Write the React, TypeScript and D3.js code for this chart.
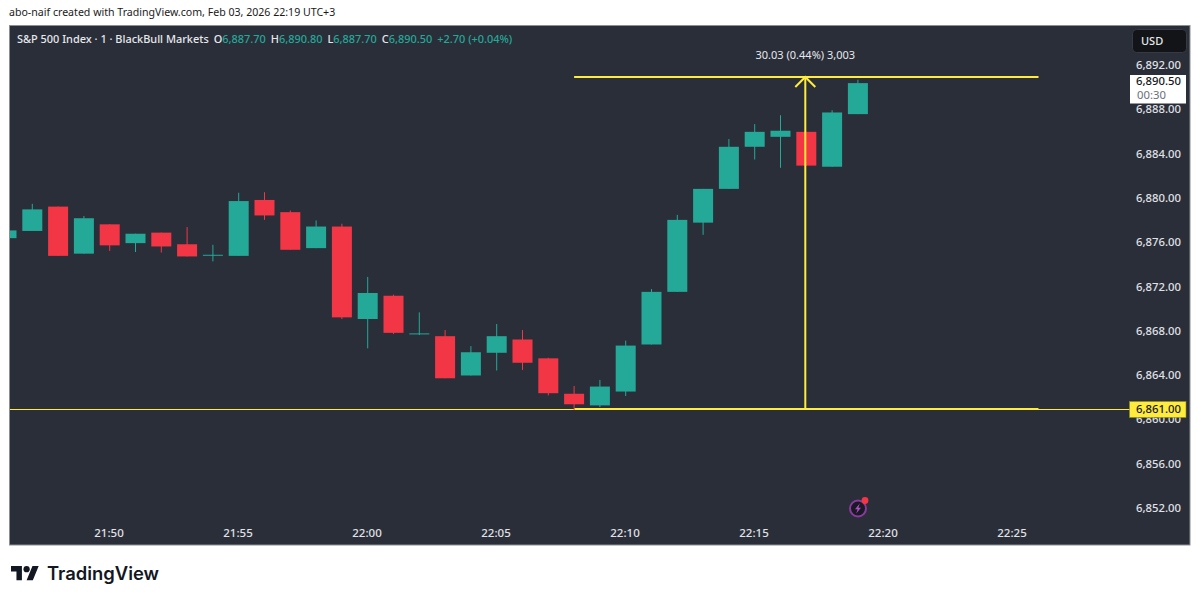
import React from 'react';
import * as d3 from 'd3';

const WIDTH = 1200;
const HEIGHT = 602;

// one-minute bars, first one is 21:46
const minutes = [
  '21:46', '21:47', '21:48', '21:49', '21:50', '21:51', '21:52', '21:53', '21:54', '21:55', '21:56',
  '21:57', '21:58', '21:59', '22:00', '22:01', '22:02', '22:03', '22:04', '22:05', '22:06', '22:07',
  '22:08', '22:09', '22:10', '22:11', '22:12', '22:13', '22:14', '22:15', '22:16', '22:17', '22:18', '22:19',
];
const opens = [
  6876.5, 6877.15, 6879.35, 6875.1, 6877.75, 6876.05, 6877.0, 6875.95, 6875.0, 6874.9, 6879.95,
  6878.85, 6875.6, 6877.55, 6869.2, 6871.3, 6867.9, 6867.65, 6864.1, 6866.15, 6867.35, 6865.65,
  6862.45, 6861.4, 6862.65, 6866.9, 6871.65, 6877.9, 6880.95, 6884.75, 6885.65, 6886.1, 6882.95, 6887.7,
];
const highs = [
  6877.2, 6879.6, 6879.35, 6878.5, 6877.75, 6876.9, 6877.0, 6877.5, 6875.9, 6880.6, 6880.65,
  6879.0, 6878.1, 6877.8, 6873.0, 6871.4, 6869.8, 6868.2, 6866.75, 6868.75, 6868.2, 6865.7,
  6863.15, 6863.7, 6867.25, 6871.9, 6878.6, 6880.95, 6885.45, 6886.8, 6887.6, 6886.1, 6888.05, 6890.8,
];
const lows = [
  6876.5, 6877.15, 6874.9, 6875.1, 6875.35, 6875.25, 6875.2, 6874.85, 6874.4, 6874.9, 6878.15,
  6875.45, 6875.6, 6869.2, 6866.55, 6867.85, 6867.75, 6863.85, 6864.1, 6864.55, 6864.6, 6862.3,
  6861.0, 6861.25, 6862.25, 6866.9, 6871.65, 6876.8, 6880.95, 6883.6, 6882.85, 6883.05, 6882.95, 6887.7,
];
const closes = [
  6877.2, 6879.1, 6874.9, 6878.3, 6875.85, 6876.9, 6875.75, 6874.85, 6875.0, 6879.85, 6878.55,
  6875.45, 6877.55, 6869.35, 6871.55, 6867.95, 6867.9, 6863.85, 6866.2, 6867.65, 6865.25, 6862.5,
  6861.5, 6863.1, 6866.8, 6871.65, 6878.15, 6880.95, 6884.75, 6886.1, 6886.2, 6883.05, 6887.85, 6890.5,
];

const priceTicks = [6892, 6888, 6884, 6880, 6876, 6872, 6868, 6864, 6860, 6856, 6852];
const timeTicks = ['21:50', '21:55', '22:00', '22:05', '22:10', '22:15', '22:20', '22:25'];

const lastPrice = 6890.5;
const supportPrice = 6861;
const measureTop = 6891.03;
const measureStart = '22:08';
const measureMid = '22:17';
const measureEnd = '22:26';

const BG = '#2a2e39';
const UP = '#24a898';
const DOWN = '#f23645';
const YELLOW = '#ffeb3b';
const FONT = '"Noto Sans", sans-serif';

const parseTime = d3.timeParse('%H:%M');
const t = (s: string) => parseTime(s) as Date;

const x = d3.scaleTime().domain([t('21:50'), t('22:25')]).range([109.7, 1012.7]);
const y = d3.scaleLinear().domain([6892, 6852]).range([66.5, 509.5]);
const fmt = d3.format(',.2f');

const Legend = ({ label, value }: { label: string; value: string }) => (
  <>
    <tspan fill="#e6e8ec" dx="5">{label}</tspan>
    <tspan fill={UP}>{value}</tspan>
  </>
);

const App: React.FC = () => {
  const candleW = 20;
  const measureX = x(t(measureMid)) - 1;
  const supportY = Math.floor(y(supportPrice));
  const topY = Math.floor(y(measureTop));
  return (
    <svg width={WIDTH} height={HEIGHT} style={{ position: 'absolute', left: 0, top: 0, background: '#fff' }} fontFamily={FONT}>
      <defs>
        <clipPath id="pane">
          <rect x={10} y={26} width={1120} height={519} />
        </clipPath>
      </defs>

      <text x={9} y={16} fontSize={10.6} fill="#1a1a1a">abo-naif created with TradingView.com, Feb 03, 2026 22:19 UTC+3</text>

      <rect x={9.5} y={25.5} width={1180.5} height={519.5} fill={BG} stroke="#8b8e95" strokeWidth={1} />

      <text x={17} y={43} fontSize={10.95} fontWeight={500} fill="#e6e8ec">
        S&amp;P 500 Index · 1 · BlackBull Markets
        <Legend label="O" value="6,887.70" />
        <Legend label="H" value="6,890.80" />
        <Legend label="L" value="6,887.70" />
        <Legend label="C" value="6,890.50" />
        <tspan fill={UP} dx="5">+2.70 (+0.04%)</tspan>
      </text>

      <g clipPath="url(#pane)">
        {/* support line sits behind the bars */}
        <line x1={10} x2={1130} y1={supportY + 0.5} y2={supportY + 0.5} stroke={YELLOW} strokeWidth={1} />
        <line x1={x(t(measureStart))} x2={x(t(measureEnd))} y1={supportY} y2={supportY} stroke={YELLOW} strokeWidth={2} />

        {minutes.map((m, i) => {
          const cx = x(t(m));
          const up = closes[i] >= opens[i];
          const color = up ? UP : DOWN;
          const top = y(Math.max(opens[i], closes[i]));
          const bottom = y(Math.min(opens[i], closes[i]));
          return (
            <g key={m}>
              <line x1={cx} x2={cx} y1={y(highs[i])} y2={y(lows[i])} stroke={color} strokeWidth={1} />
              <rect x={cx - candleW / 2} y={top} width={candleW} height={Math.max(bottom - top, 1)} fill={color} />
            </g>
          );
        })}

        <line x1={x(t(measureStart))} x2={x(t(measureEnd))} y1={topY} y2={topY} stroke={YELLOW} strokeWidth={2} />
        <line x1={measureX} x2={measureX} y1={supportY} y2={topY} stroke={YELLOW} strokeWidth={2} />
        <polyline
          points={[[measureX - 10, topY + 10], [measureX, topY], [measureX + 10, topY + 10]].join(' ')}
          fill="none"
          stroke={YELLOW}
          strokeWidth={2}
        />
      </g>

      <text x={measureX} y={59} textAnchor="middle" fontSize={11} fill="#e6e8ec">30.03 (0.44%) 3,003</text>

      {priceTicks.map(p => (
        <text key={p} x={1181} y={y(p) + 2.5} textAnchor="end" fontSize={11.3} fontWeight={500} fill="#e0e2e7">{fmt(p)}</text>
      ))}

      {timeTicks.map(s => (
        <text key={s} x={x(t(s)) - 0.7} y={537} textAnchor="middle" fontSize={11.5} fontWeight={500} fill="#e0e2e7">{s}</text>
      ))}

      <rect x={1132.5} y={29.5} width={54} height={23} rx={4} fill="#131417" stroke="#363a45" />
      <text x={1141} y={45} fontSize={11} fontWeight={500} fill="#e6e8ec">USD</text>

      <rect x={1130} y={75} width={56} height={28.5} fill="#fff" />
      <text x={1181} y={y(lastPrice) + 2} textAnchor="end" fontSize={11.3} fontWeight={500} fill="#131722">{fmt(lastPrice)}</text>
      <text x={1137} y={99} fontSize={11.3} fill="#6b6f78">00:30</text>

      <rect x={1129.5} y={401.5} width={56.5} height={16} fill={YELLOW} stroke="#8a8a20" strokeWidth={0.6} />
      <text x={1181} y={y(supportPrice) + 3} textAnchor="end" fontSize={11.3} fontWeight={500} fill="#131722">{fmt(supportPrice)}</text>

      <g transform="translate(858 508.5)">
        <circle r={8} fill="#1a1a24" stroke="#8a3a9e" strokeWidth={2} />
        <path d="M1.8-5 L-3 0.8 H-0.4 L-1.8 5 L3 -0.8 H0.4 Z" fill="#b04fc4" />
        <circle cx={7} cy={-8} r={3.4} fill={DOWN} />
      </g>

      <g transform="translate(11 563) scale(0.78)" fill="#131722">
        <path d="M14 22H7V11H0V4h14v18zM28 22h-8l7.5-18h8L28 22z" />
        <circle cx={20} cy={8} r={4} />
      </g>
      <text x={47} y={580} fontFamily="Inter, sans-serif" fontSize={18.4} fontWeight={600} fill="#131722">TradingView</text>
    </svg>
  );
};

export default App;
